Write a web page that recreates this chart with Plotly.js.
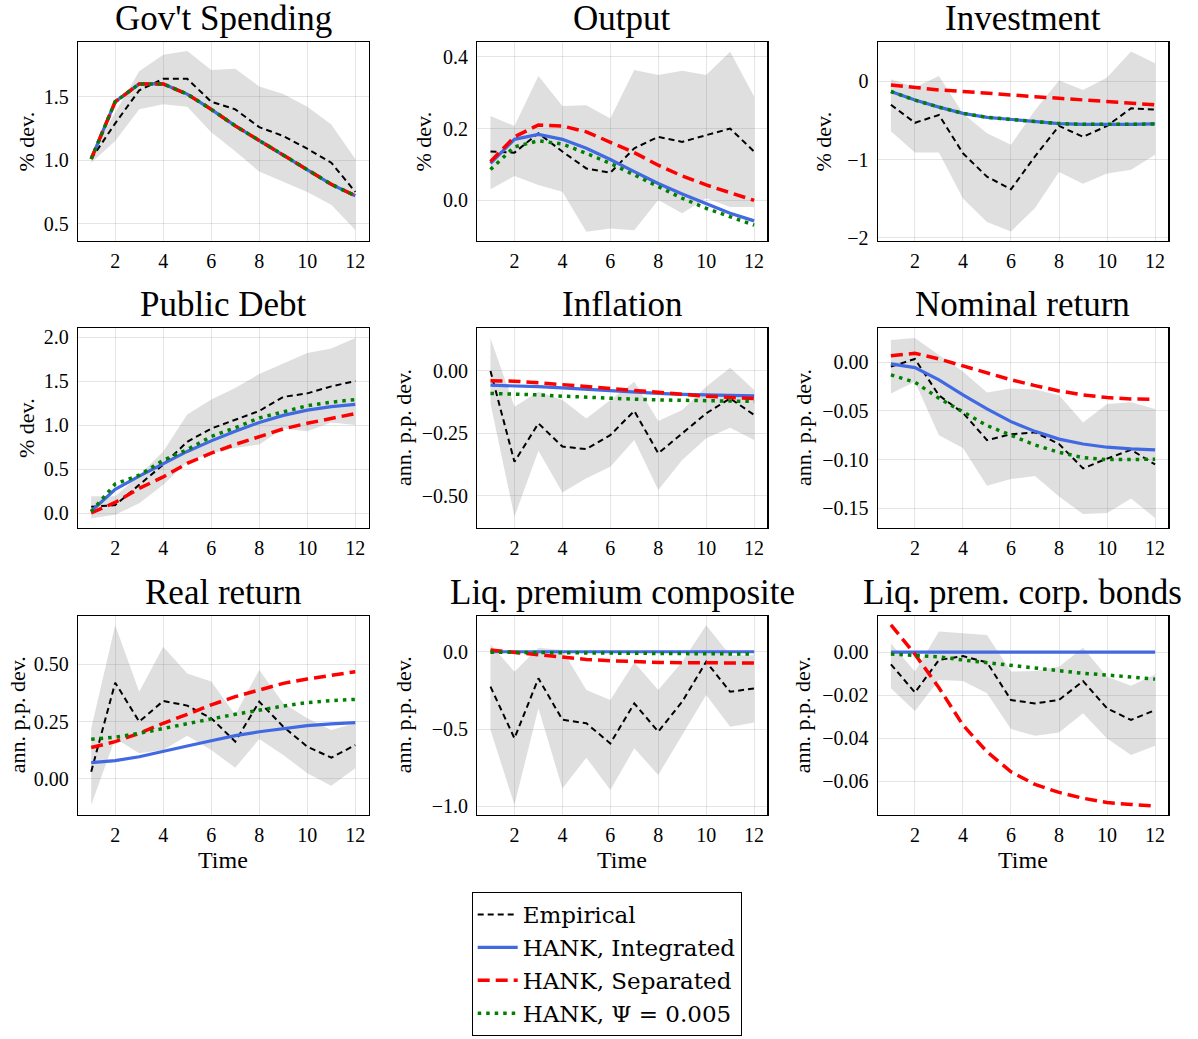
<!DOCTYPE html>
<html>
<head>
<meta charset="utf-8">
<script src="https://cdn.plot.ly/plotly-3.0.1.min.js"></script>
<style>
  html, body { margin: 0; padding: 0; background: #fff; }
  #chart { width: 1198px; height: 1039px; }
</style>
</head>
<body>
<div id="chart"></div>
<script>
// Quarters after the shock
const horizon = [1, 2, 3, 4, 5, 6, 7, 8, 9, 10, 11, 12];

// Series labels
const seriesNames = ['Empirical', 'HANK, Integrated', 'HANK, Separated', 'HANK, Ψ = 0.005'];

// Panel titles and y-axis labels
const panelTitles = ["Gov't Spending", 'Output', 'Investment', 'Public Debt', 'Inflation',
  'Nominal return', 'Real return', 'Liq. premium composite', 'Liq. prem. corp. bonds'];
const panelUnits = ['% dev.', '% dev.', '% dev.', '% dev.', 'ann. p.p. dev.',
  'ann. p.p. dev.', 'ann. p.p. dev.', 'ann. p.p. dev.', 'ann. p.p. dev.'];

// Government spending
const govEmp = [1.01, 1.29, 1.55, 1.64, 1.64, 1.46, 1.40, 1.26, 1.19, 1.09, 0.98, 0.75];
const govHi  = [1.05, 1.37, 1.70, 1.83, 1.86, 1.71, 1.72, 1.58, 1.52, 1.42, 1.28, 1.01];
const govLo  = [0.98, 1.15, 1.40, 1.44, 1.42, 1.22, 1.07, 0.91, 0.83, 0.75, 0.65, 0.45];
const govInt = [1.01, 1.46, 1.60, 1.60, 1.52, 1.40, 1.27, 1.155, 1.04, 0.92, 0.81, 0.72];
const govSep = [1.01, 1.46, 1.60, 1.60, 1.52, 1.40, 1.27, 1.155, 1.04, 0.92, 0.81, 0.72];
const govPsi = [1.01, 1.46, 1.60, 1.60, 1.52, 1.40, 1.27, 1.155, 1.04, 0.92, 0.81, 0.72];

// Output
const outEmp = [0.136, 0.133, 0.187, 0.136, 0.089, 0.077, 0.145, 0.177, 0.163, 0.182, 0.200, 0.136];
const outHi  = [0.235, 0.207, 0.346, 0.263, 0.265, 0.228, 0.363, 0.349, 0.361, 0.349, 0.414, 0.289];
const outLo  = [0.031, 0.068, 0.043, 0.024, -0.087, -0.078, -0.083, 0.001, -0.036, 0.006, -0.018, -0.018];
const outInt = [0.103, 0.170, 0.184, 0.170, 0.145, 0.114, 0.080, 0.047, 0.018, -0.010, -0.036, -0.057];
const outSep = [0.108, 0.177, 0.210, 0.207, 0.191, 0.163, 0.133, 0.098, 0.068, 0.043, 0.021, 0.000];
const outPsi = [0.086, 0.149, 0.166, 0.157, 0.131, 0.103, 0.071, 0.038, 0.006, -0.022, -0.045, -0.069];

// Investment
const invEmp = [-0.30, -0.53, -0.43, -0.92, -1.22, -1.38, -0.96, -0.57, -0.71, -0.57, -0.345, -0.36];
const invHi  = [0.026, -0.077, 0.068, -0.41, -0.665, -0.81, -0.37, 0.01, -0.11, 0.05, 0.38, 0.23];
const invLo  = [-0.64, -0.91, -0.91, -1.50, -1.80, -1.92, -1.62, -1.16, -1.31, -1.18, -1.13, -0.94];
const invInt = [-0.13, -0.24, -0.33, -0.41, -0.46, -0.49, -0.52, -0.54, -0.55, -0.555, -0.55, -0.545];
const invSep = [-0.047, -0.08, -0.11, -0.13, -0.155, -0.175, -0.196, -0.217, -0.24, -0.26, -0.28, -0.30];
const invPsi = [-0.13, -0.24, -0.33, -0.41, -0.46, -0.49, -0.52, -0.54, -0.55, -0.555, -0.55, -0.545];

// Public debt
const debtEmp = [0.07, 0.09, 0.32, 0.55, 0.81, 0.96, 1.06, 1.16, 1.32, 1.36, 1.44, 1.50];
const debtHi  = [0.19, 0.19, 0.43, 0.70, 1.12, 1.29, 1.42, 1.58, 1.70, 1.82, 1.87, 1.99];
const debtLo  = [-0.06, -0.02, 0.11, 0.32, 0.58, 0.68, 0.74, 0.78, 0.96, 0.93, 1.03, 1.00];
const debtInt = [0.02, 0.27, 0.42, 0.56, 0.70, 0.82, 0.93, 1.03, 1.11, 1.17, 1.21, 1.235];
const debtSep = [0.00, 0.12, 0.28, 0.41, 0.565, 0.68, 0.78, 0.87, 0.956, 1.02, 1.08, 1.13];
const debtPsi = [0.015, 0.33, 0.43, 0.60, 0.72, 0.87, 0.97, 1.08, 1.15, 1.22, 1.26, 1.29];

// Inflation
const infEmp = [0.0, -0.364, -0.21, -0.303, -0.313, -0.257, -0.16, -0.33, -0.25, -0.17, -0.11, -0.176];
const infHi  = [0.131, -0.143, -0.083, -0.116, -0.19, -0.116, -0.043, -0.20, -0.156, -0.063, 0.013, -0.076];
const infLo  = [-0.13, -0.584, -0.32, -0.487, -0.43, -0.384, -0.277, -0.477, -0.357, -0.27, -0.227, -0.277];
const infInt = [-0.057, -0.059, -0.063, -0.068, -0.074, -0.080, -0.085, -0.090, -0.094, -0.097, -0.099, -0.100];
const infSep = [-0.039, -0.041, -0.047, -0.055, -0.063, -0.072, -0.080, -0.088, -0.095, -0.101, -0.106, -0.110];
const infPsi = [-0.090, -0.092, -0.096, -0.101, -0.106, -0.110, -0.113, -0.116, -0.118, -0.120, -0.121, -0.122];

// Nominal return
const nomEmp = [-0.0045, 0.0034, -0.034, -0.052, -0.080, -0.074, -0.072, -0.084, -0.109, -0.099, -0.090, -0.105];
const nomHi  = [0.023, 0.025, 0.0075, -0.0096, -0.031, -0.027, -0.028, -0.034, -0.062, -0.043, -0.041, -0.048];
const nomLo  = [-0.032, -0.020, -0.075, -0.088, -0.127, -0.120, -0.117, -0.138, -0.156, -0.155, -0.140, -0.160];
const nomInt = [-0.0017, -0.0055, -0.018, -0.0336, -0.048, -0.061, -0.071, -0.079, -0.084, -0.0873, -0.089, -0.090];
const nomSep = [0.0068, 0.0092, 0.0034, -0.0038, -0.0113, -0.018, -0.024, -0.0295, -0.0336, -0.0363, -0.0377, -0.038];
const nomPsi = [-0.013, -0.0205, -0.037, -0.0507, -0.065, -0.075, -0.085, -0.0925, -0.098, -0.100, -0.100, -0.0997];

// Real return
const realEmp = [0.032, 0.42, 0.25, 0.34, 0.32, 0.265, 0.163, 0.337, 0.228, 0.141, 0.093, 0.148];
const realHi  = [0.22, 0.67, 0.38, 0.577, 0.46, 0.425, 0.28, 0.475, 0.33, 0.265, 0.214, 0.243];
const realLo  = [-0.113, 0.177, 0.112, 0.126, 0.189, 0.126, 0.049, 0.174, 0.105, 0.025, -0.03, 0.047];
const realInt = [0.071, 0.080, 0.097, 0.119, 0.144, 0.167, 0.189, 0.206, 0.221, 0.233, 0.240, 0.246];
const realSep = [0.137, 0.163, 0.199, 0.243, 0.282, 0.323, 0.359, 0.388, 0.417, 0.436, 0.453, 0.468];
const realPsi = [0.173, 0.182, 0.199, 0.221, 0.243, 0.262, 0.282, 0.301, 0.318, 0.333, 0.342, 0.347];

// Liquidity premium, composite
const lpcEmp = [-0.226, -0.56, -0.172, -0.44, -0.463, -0.593, -0.334, -0.517, -0.323, -0.065, -0.259, -0.237];
const lpcHi  = [0.047, -0.129, 0.026, 0.011, -0.248, -0.312, -0.069, -0.248, -0.065, 0.172, -0.022, -0.022];
const lpcLo  = [-0.506, -0.99, -0.366, -0.884, -0.685, -0.894, -0.625, -0.797, -0.539, -0.28, -0.485, -0.457];
const lpcInt = [0, 0, 0, 0, 0, 0, 0, 0, 0, 0, 0, 0];
const lpcSep = [0.011, -0.004, -0.022, -0.037, -0.050, -0.058, -0.065, -0.069, -0.071, -0.073, -0.073, -0.073];
const lpcPsi = [-0.003, -0.005, -0.006, -0.007, -0.008, -0.009, -0.010, -0.011, -0.012, -0.013, -0.014, -0.015];

// Liquidity premium, corporate bonds
const lpbEmp = [-0.0057, -0.0188, -0.0037, -0.0019, -0.0048, -0.0223, -0.0239, -0.0223, -0.0135, -0.0262, -0.0316, -0.027];
const lpbHi  = [0.004, -0.0091, 0.0095, 0.0087, 0.0079, -0.0091, -0.0088, -0.0068, 0.002, -0.0115, -0.0157, -0.0104];
const lpbLo  = [-0.0169, -0.0274, -0.013, -0.0135, -0.0192, -0.0358, -0.0389, -0.0374, -0.0285, -0.0402, -0.0479, -0.0436];
const lpbInt = [0, 0, 0, 0, 0, 0, 0, 0, 0, 0, 0, 0];
const lpbSep = [0.0126, -0.001, -0.0166, -0.034, -0.0464, -0.0557, -0.0616, -0.0653, -0.068, -0.070, -0.0709, -0.0716];
const lpbPsi = [-0.0009, -0.0017, -0.0022, -0.0037, -0.005, -0.0064, -0.0076, -0.0087, -0.0099, -0.0107, -0.0115, -0.0126];

const panelData = [
  [govEmp, govLo, govHi, govInt, govSep, govPsi],
  [outEmp, outLo, outHi, outInt, outSep, outPsi],
  [invEmp, invLo, invHi, invInt, invSep, invPsi],
  [debtEmp, debtLo, debtHi, debtInt, debtSep, debtPsi],
  [infEmp, infLo, infHi, infInt, infSep, infPsi],
  [nomEmp, nomLo, nomHi, nomInt, nomSep, nomPsi],
  [realEmp, realLo, realHi, realInt, realSep, realPsi],
  [lpcEmp, lpcLo, lpcHi, lpcInt, lpcSep, lpcPsi],
  [lpbEmp, lpbLo, lpbHi, lpbInt, lpbSep, lpbPsi]
];

// Axis styling per panel
const yAxisStyle = [
  {range: [0.364, 1.93], dtick: 0.5, fmt: '.1f'},
  {range: [-0.113, 0.441], dtick: 0.2, fmt: '.1f'},
  {range: [-2.042, 0.503], dtick: 1, fmt: 'd'},
  {range: [-0.167, 2.10], dtick: 0.5, fmt: '.1f'},
  {range: [-0.628, 0.171], dtick: 0.25, fmt: '.2f'},
  {range: [-0.170, 0.0349], dtick: 0.05, fmt: '.2f'},
  {range: [-0.157, 0.712], dtick: 0.25, fmt: '.2f'},
  {range: [-1.056, 0.233], dtick: 0.5, fmt: '.1f'},
  {range: [-0.0758, 0.0169], dtick: 0.02, fmt: '.2f'}
];

const W = 1198, H = 1039;
const colPx = [[78, 368.5], [477.3, 767.3], [877.7, 1168.3]];
const rowPx = [[42, 241], [328.3, 527.7], [615.7, 815]];
const unitLabelX = [26, 423, 823, 26, 403, 803, 17, 403, 802];

const FONT = 'Liberation Serif, "DejaVu Serif", serif';
const LEGEND_FONT = '"DejaVu Serif", Liberation Serif, serif';
const BAND = 'rgba(128,128,128,0.25)';
const GRID = 'rgba(0,0,0,0.10)';

const traces = [];
const layout = {
  width: W, height: H,
  margin: {l: 0, r: 0, t: 0, b: 0, autoexpand: false},
  paper_bgcolor: '#fff', plot_bgcolor: '#fff',
  font: {family: FONT, size: 20, color: '#000'},
  showlegend: true,
  legend: {
    x: 471.7 / W, y: 1 - 892 / H, xanchor: 'left', yanchor: 'top',
    bordercolor: '#000', borderwidth: 1, bgcolor: '#fff',
    font: {family: LEGEND_FONT, size: 23, color: '#000'},
    tracegroupgap: 0, itemwidth: 40
  },
  annotations: []
};

const styles = [
  {color: '#000000', width: 2, dash: '6px,4px'},
  {color: '#4169e1', width: 3.2, dash: 'solid'},
  {color: '#ff0000', width: 3.5, dash: '12px,6px'},
  {color: '#008000', width: 3.5, dash: '3.5px,5px'}
];

for (let i = 0; i < 9; i++) {
  const r = Math.floor(i / 3), c = i % 3;
  const sfx = i === 0 ? '' : String(i + 1);
  const xa = 'x' + sfx, ya = 'y' + sfx;
  const [emp, lo, hi, mInt, mSep, mPsi] = panelData[i];

  // confidence band
  traces.push({
    x: horizon.concat(horizon.slice().reverse()),
    y: hi.concat(lo.slice().reverse()),
    xaxis: xa, yaxis: ya, type: 'scatter', mode: 'lines',
    fill: 'toself', fillcolor: BAND, line: {width: 0},
    hoverinfo: 'skip', showlegend: false
  });

  [emp, mInt, mSep, mPsi].forEach((ys, k) => {
    traces.push({
      x: horizon, y: ys, xaxis: xa, yaxis: ya,
      type: 'scatter', mode: 'lines', name: seriesNames[k],
      legendgroup: seriesNames[k], showlegend: i === 0,
      line: styles[k]
    });
  });

  const xDom = [colPx[c][0] / W, colPx[c][1] / W];
  const yDom = [1 - rowPx[r][1] / H, 1 - rowPx[r][0] / H];
  const ys = yAxisStyle[i];

  layout['xaxis' + sfx] = {
    domain: xDom, anchor: ya, range: [0.45, 12.55],
    tickmode: 'linear', tick0: 2, dtick: 2,
    showgrid: true, gridcolor: GRID, gridwidth: 1, zeroline: false,
    showline: true, mirror: true, linecolor: '#000', linewidth: 1.2,
    ticks: '', ticklabelstandoff: 2,
    tickfont: {family: FONT, size: 20, color: '#000'}
  };
  layout['yaxis' + sfx] = {
    domain: yDom, anchor: xa, range: ys.range,
    tickmode: 'linear', tick0: 0, dtick: ys.dtick, tickformat: ys.fmt,
    showgrid: true, gridcolor: GRID, gridwidth: 1, zeroline: false,
    showline: true, mirror: true, linecolor: '#000', linewidth: 1.2,
    ticks: '', ticklabelstandoff: 4,
    tickfont: {family: FONT, size: 20, color: '#000'}
  };

  // panel title
  layout.annotations.push({
    text: panelTitles[i], xref: 'paper', yref: 'paper',
    x: (xDom[0] + xDom[1]) / 2, y: yDom[1], xanchor: 'center', yanchor: 'bottom',
    yshift: 2, showarrow: false, font: {family: FONT, size: 35, color: '#000'}
  });
  // y-axis label
  layout.annotations.push({
    text: panelUnits[i], xref: 'paper', yref: 'paper',
    x: unitLabelX[i] / W, y: (yDom[0] + yDom[1]) / 2, xanchor: 'center', yanchor: 'middle',
    textangle: -90, showarrow: false, font: {family: FONT, size: 22, color: '#000'}
  });
  // x-axis label on bottom row
  if (r === 2) {
    layout.annotations.push({
      text: 'Time', xref: 'paper', yref: 'paper',
      x: (xDom[0] + xDom[1]) / 2, y: 1 - 860 / H, xanchor: 'center', yanchor: 'middle',
      showarrow: false, font: {family: FONT, size: 24, color: '#000'}
    });
  }
}

Plotly.newPlot('chart', traces, layout, {displayModeBar: false, staticPlot: true});
</script>
</body>
</html>
